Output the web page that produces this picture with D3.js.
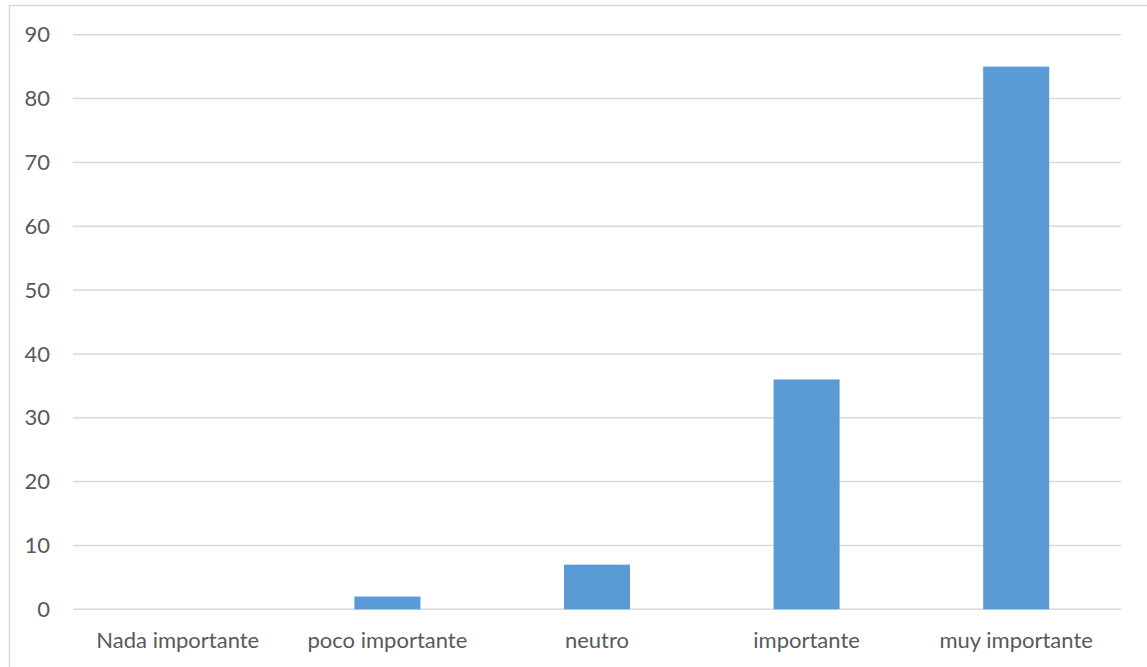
<!DOCTYPE html>
<html>
<head>
<meta charset="utf-8">
<script src="https://cdn.jsdelivr.net/npm/d3@7"></script>
<style>
  html, body { margin: 0; padding: 0; background: #fff; }
  svg { display: block; }
</style>
</head>
<body>
<svg id="chart" width="1147" height="667"></svg>
<script>
// Survey responses by importance level
const categories = ["Nada importante", "poco importante", "neutro", "importante", "muy importante"];
const values = [0, 2, 7, 36, 85];
const yTicks = [0, 10, 20, 30, 40, 50, 60, 70, 80, 90];

const svg = d3.select("#chart");
const W = 1147, H = 667;
const plot = { left: 73, right: 1121, top: 34.7, bottom: 609.3 };
const fontFamily = "Lato, 'Open Sans', sans-serif";
const textColor = "#595959";

// Chart frame (continues past the right and bottom edges)
svg.append("rect")
  .attr("x", 9.5).attr("y", 5.5)
  .attr("width", W).attr("height", H)
  .attr("fill", "#fff")
  .attr("stroke", "#D9D9D9")
  .attr("stroke-width", 1.5);

const x = d3.scaleBand()
  .domain(categories)
  .range([plot.left, plot.right])
  .paddingInner(0.685)
  .paddingOuter(0.3425);

const y = d3.scaleLinear()
  .domain([0, 90])
  .range([plot.bottom, plot.top]);

// Horizontal gridlines
svg.append("g")
  .selectAll("line")
  .data(yTicks)
  .join("line")
  .attr("x1", plot.left).attr("x2", plot.right)
  .attr("y1", d => y(d)).attr("y2", d => y(d))
  .attr("stroke", "#D9D9D9")
  .attr("stroke-width", 1.5);

// Y-axis tick labels
svg.append("g")
  .selectAll("text")
  .data(yTicks)
  .join("text")
  .attr("x", 50)
  .attr("y", d => y(d))
  .attr("dy", "0.35em")
  .attr("text-anchor", "end")
  .attr("font-family", fontFamily)
  .attr("font-size", 22)
  .attr("fill", textColor)
  .text(d => d);

// Bars
svg.append("g")
  .selectAll("rect")
  .data(categories.map((c, i) => ({ c, v: values[i] })))
  .join("rect")
  .attr("x", d => x(d.c))
  .attr("width", x.bandwidth())
  .attr("y", d => y(d.v))
  .attr("height", d => y(0) - y(d.v))
  .attr("fill", "#5B9BD5");

// Category labels
svg.append("g")
  .selectAll("text")
  .data(categories)
  .join("text")
  .attr("x", d => x(d) + x.bandwidth() / 2)
  .attr("y", 648)
  .attr("text-anchor", "middle")
  .attr("font-family", fontFamily)
  .attr("font-size", 22)
  .attr("fill", textColor)
  .text(d => d);
</script>
</body>
</html>
